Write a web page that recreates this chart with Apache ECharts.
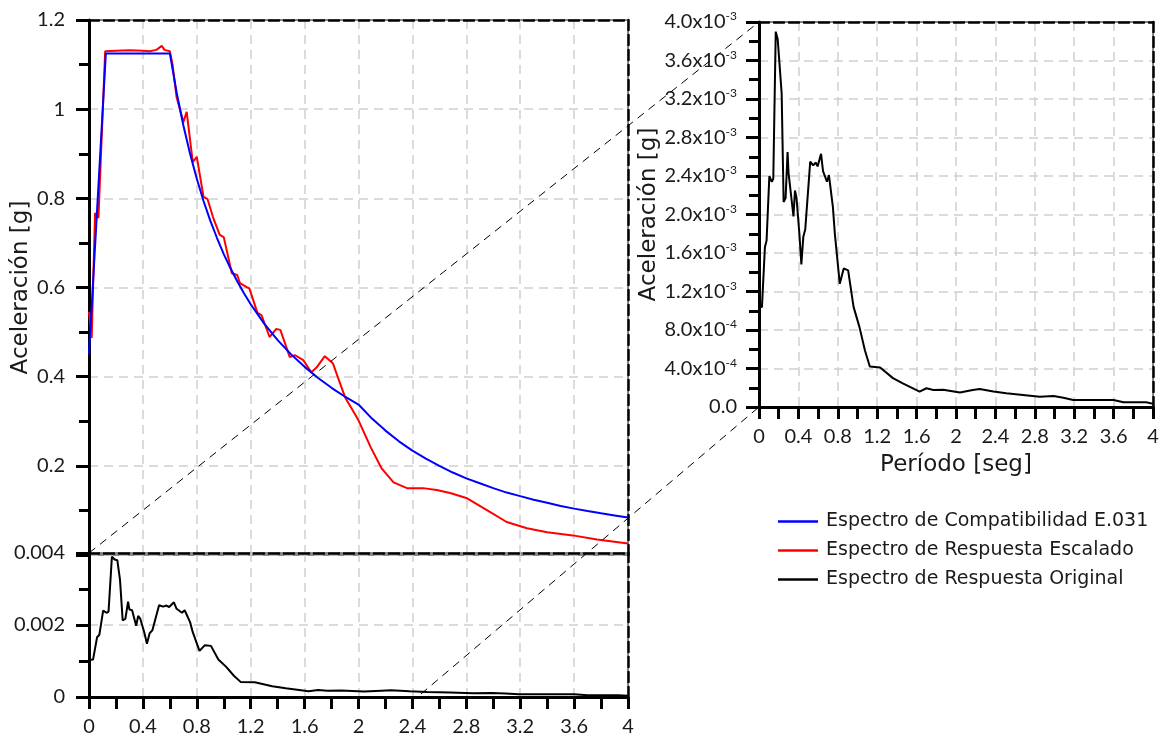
<!DOCTYPE html>
<html>
<head>
<meta charset="utf-8">
<script src="https://cdn.jsdelivr.net/npm/echarts@6/dist/echarts.min.js"></script>
<style>html,body{margin:0;padding:0;background:#fff}#c{width:1163px;height:742px}</style>
</head>
<body>
<div id="c"></div>
<script>
// Compatibility spectrum E.031 (period [s], acceleration [g])
var blueT = [0, 0.125, 0.6, 0.65, 0.7, 0.75, 0.8, 0.85, 0.9, 0.95, 1.0, 1.05, 1.1, 1.15, 1.2, 1.3, 1.4, 1.5, 1.6, 1.7, 1.8, 1.9, 2.0, 2.1, 2.2, 2.3, 2.4, 2.5, 2.6, 2.7, 2.8, 2.9, 3.0, 3.1, 3.2, 3.3, 3.4, 3.5, 3.6, 3.7, 3.8, 3.9, 4.0];
var blueA = [0.45, 1.125, 1.125, 1.038, 0.964, 0.9, 0.844, 0.794, 0.75, 0.711, 0.675, 0.643, 0.614, 0.587, 0.5625, 0.519, 0.482, 0.45, 0.422, 0.397, 0.375, 0.355, 0.3375, 0.306, 0.279, 0.255, 0.234, 0.216, 0.2, 0.185, 0.172, 0.161, 0.15, 0.14, 0.132, 0.124, 0.117, 0.110, 0.104, 0.0986, 0.0935, 0.0888, 0.084];

// Scaled response spectrum
var redT = [0, 0.02, 0.045, 0.07, 0.12, 0.2, 0.3, 0.4, 0.45, 0.5, 0.54, 0.56, 0.6, 0.62, 0.65, 0.7, 0.725, 0.77, 0.8, 0.85, 0.88, 0.92, 0.97, 1.0, 1.06, 1.1, 1.12, 1.17, 1.19, 1.25, 1.28, 1.34, 1.39, 1.42, 1.49, 1.53, 1.59, 1.65, 1.69, 1.75, 1.81, 1.9, 2.0, 2.09, 2.17, 2.26, 2.36, 2.48, 2.58, 2.68, 2.8, 2.95, 3.1, 3.25, 3.4, 3.59, 3.77, 4.0];
var redA = [0.545, 0.487, 0.767, 0.756, 1.13, 1.131, 1.132, 1.131, 1.13, 1.133, 1.142, 1.133, 1.13, 1.1, 1.027, 0.971, 0.994, 0.881, 0.893, 0.803, 0.798, 0.758, 0.718, 0.713, 0.632, 0.628, 0.61, 0.601, 0.598, 0.543, 0.538, 0.489, 0.507, 0.505, 0.444, 0.448, 0.437, 0.41, 0.421, 0.446, 0.43, 0.354, 0.302, 0.242, 0.195, 0.163, 0.15, 0.15, 0.146, 0.139, 0.128, 0.101, 0.074, 0.06, 0.051, 0.044, 0.035, 0.026];

// Original response spectrum
var blackT = [0, 0.03, 0.06, 0.077, 0.105, 0.13, 0.145, 0.17, 0.19, 0.21, 0.23, 0.25, 0.27, 0.29, 0.30, 0.32, 0.35, 0.365, 0.38, 0.41, 0.43, 0.45, 0.47, 0.52, 0.55, 0.575, 0.595, 0.63, 0.65, 0.69, 0.71, 0.75, 0.77, 0.82, 0.86, 0.905, 0.96, 1.02, 1.075, 1.125, 1.23, 1.36, 1.46, 1.63, 1.70, 1.77, 1.87, 2.04, 2.17, 2.24, 2.38, 2.51, 2.68, 2.85, 2.99, 3.09, 3.19, 3.60, 3.70, 3.93, 4.0];
var blackA = [0.00103, 0.00104, 0.00166, 0.00173, 0.0024, 0.00234, 0.00237, 0.0039, 0.00382, 0.0038, 0.00326, 0.00213, 0.00217, 0.00265, 0.00243, 0.00241, 0.00198, 0.00225, 0.00218, 0.0018, 0.00148, 0.00177, 0.00185, 0.00255, 0.00251, 0.00254, 0.0025, 0.00263, 0.00245, 0.00234, 0.00241, 0.00208, 0.0018, 0.00128, 0.00144, 0.00142, 0.00104, 0.00083, 0.00059, 0.00042, 0.00041, 0.0003, 0.000245, 0.00016, 0.000195, 0.000177, 0.00018, 0.00015, 0.000177, 0.000187, 0.00016, 0.000142, 0.000125, 0.000107, 0.000114, 0.000097, 0.000073, 0.000073, 0.000049, 0.000049, 0.000034];

var seriesNames = ['Espectro de Compatibilidad E.031', 'Espectro de Respuesta Escalado', 'Espectro de Respuesta Original'];
var xTickLabels = ['0', '0.4', '0.8', '1.2', '1.6', '2', '2.4', '2.8', '3.2', '3.6', '4'];
var yNameText = 'Aceleración [g]';
var xNameText = 'Período [seg]';

function zip(a, b) { return a.map(function (v, i) { return [v, b[i]]; }); }

var FONT = 'Lato';
var WIDE = 'DejaVu Sans';
var TXT = '#1a1a1a';
var chart = echarts.init(document.getElementById('c'));

function xBottom(grid, showLabels, name) {
  return {
    type: 'value', gridIndex: grid, position: 'bottom', min: 0, max: 4, interval: 0.4,
    axisLine: { show: showLabels, onZero: false, lineStyle: { color: '#000', width: 3 } },
    axisTick: { show: showLabels, length: 12, lineStyle: { color: '#000', width: 3 } },
    minorTick: { show: showLabels, splitNumber: 2, length: 12, lineStyle: { color: '#000', width: 3 } },
    axisLabel: { show: showLabels, margin: 20, fontFamily: FONT, fontSize: 20, color: TXT,
      formatter: function (v) { return xTickLabels[Math.round(v / 0.4)]; } },
    splitLine: { show: true, lineStyle: { color: '#cfcfcf', type: [9, 6], width: 1.5 } },
    name: name || '', nameLocation: 'middle', nameGap: 47,
    nameTextStyle: { fontFamily: WIDE, fontSize: 23, color: TXT }
  };
}
function xTop(grid) {
  return { type: 'value', gridIndex: grid, position: 'top', min: 0, max: 4,
    axisLine: { show: true, onZero: false, lineStyle: { color: '#000', width: 2.5, type: [10, 5] } },
    axisTick: { show: false }, axisLabel: { show: false }, splitLine: { show: false } };
}
function yRight(grid, max) {
  return { type: 'value', gridIndex: grid, position: 'right', min: 0, max: max,
    axisLine: { show: true, onZero: false, lineStyle: { color: '#000', width: 2.5, type: [10, 5] } },
    axisTick: { show: false }, axisLabel: { show: false }, splitLine: { show: false } };
}
function sci(v) {
  if (Math.abs(v) < 1e-12) return '{m|0.0}';
  var e = Math.floor(Math.log10(v) + 1e-9);
  var m = v / Math.pow(10, e);
  return '{m|' + m.toFixed(1) + 'x10}{s|' + e + '}';
}

var option = {
  animation: false,
  backgroundColor: '#fff',
  grid: [
    { left: 89, top: 20, width: 539, height: 535, show: true, borderColor: '#8a8a8a', borderWidth: 2, backgroundColor: 'transparent' },
    { left: 89, top: 553, width: 539, height: 144, show: true, borderColor: '#8a8a8a', borderWidth: 2, backgroundColor: 'transparent' },
    { left: 759, top: 22, width: 394, height: 385, show: true, borderColor: '#8a8a8a', borderWidth: 2, backgroundColor: 'transparent' }
  ],
  xAxis: [
    xBottom(0, false), xTop(0),
    xBottom(1, true), xTop(1),
    xBottom(2, true, xNameText), xTop(2)
  ],
  yAxis: [
    { type: 'value', gridIndex: 0, min: 0, max: 1.2, interval: 0.2,
      axisLine: { show: true, onZero: false, lineStyle: { color: '#000', width: 3 } },
      axisTick: { show: true, length: 13, lineStyle: { color: '#000', width: 3 } },
      minorTick: { show: true, splitNumber: 2, length: 10, lineStyle: { color: '#000', width: 3 } },
      axisLabel: { margin: 24, fontFamily: FONT, fontSize: 20, color: TXT,
        formatter: function (v) { return v === 0 ? '' : String(+v.toFixed(1)); } },
      splitLine: { show: true, lineStyle: { color: '#cfcfcf', type: [9, 6], width: 1.5 } },
      name: yNameText, nameLocation: 'middle', nameGap: 56, nameRotate: 90,
      nameTextStyle: { fontFamily: WIDE, fontSize: 23, color: TXT } },
    yRight(0, 1.2),
    { type: 'value', gridIndex: 1, min: 0, max: 0.004, interval: 0.002,
      axisLine: { show: true, onZero: false, lineStyle: { color: '#000', width: 3 } },
      axisTick: { show: true, length: 13, lineStyle: { color: '#000', width: 3 } },
      minorTick: { show: true, splitNumber: 2, length: 10, lineStyle: { color: '#000', width: 3 } },
      axisLabel: { margin: 24, fontFamily: FONT, fontSize: 20, color: TXT,
        formatter: function (v) { return String(+v.toFixed(3)); } },
      splitLine: { show: true, lineStyle: { color: '#cfcfcf', type: [9, 6], width: 1.5 } } },
    yRight(1, 0.004),
    { type: 'value', gridIndex: 2, min: 0, max: 0.004, interval: 0.0004,
      axisLine: { show: true, onZero: false, lineStyle: { color: '#000', width: 3 } },
      axisTick: { show: true, length: 13, lineStyle: { color: '#000', width: 3 } },
      minorTick: { show: true, splitNumber: 2, length: 10, lineStyle: { color: '#000', width: 3 } },
      axisLabel: { margin: 22, fontFamily: FONT, fontSize: 20, color: TXT, formatter: sci,
        rich: { m: { fontFamily: FONT, fontSize: 20, color: TXT },
                s: { fontFamily: FONT, fontSize: 12, color: TXT, verticalAlign: 'bottom', padding: [0, 0, 11, 0] } } },
      splitLine: { show: true, lineStyle: { color: '#cfcfcf', type: [9, 6], width: 1.5 } },
      name: yNameText, nameLocation: 'middle', nameGap: 95, nameRotate: 90,
      nameTextStyle: { fontFamily: WIDE, fontSize: 23, color: TXT } },
    yRight(2, 0.004)
  ],
  legend: {
    orient: 'vertical', left: 773, top: 506, itemGap: 8, itemWidth: 40, itemHeight: 2.5, icon: 'rect',
    textStyle: { fontFamily: WIDE, fontSize: 19, color: TXT, lineHeight: 21, padding: [0, 0, 0, 3] },
    data: seriesNames
  },
  series: [
    { name: seriesNames[0], type: 'line', xAxisIndex: 0, yAxisIndex: 0, data: zip(blueT, blueA),
      showSymbol: false, symbol: 'none', lineStyle: { color: '#0000ff', width: 2 }, itemStyle: { color: '#0000ff' }, z: 3 },
    { name: seriesNames[1], type: 'line', xAxisIndex: 0, yAxisIndex: 0, data: zip(redT, redA),
      showSymbol: false, symbol: 'none', lineStyle: { color: '#ff0000', width: 2 }, itemStyle: { color: '#ff0000' }, z: 2 },
    { name: seriesNames[2], type: 'line', xAxisIndex: 2, yAxisIndex: 2, data: zip(blackT, blackA),
      showSymbol: false, symbol: 'none', lineStyle: { color: '#000', width: 2 }, itemStyle: { color: '#000' } },
    { name: seriesNames[2], type: 'line', xAxisIndex: 4, yAxisIndex: 4, data: zip(blackT, blackA),
      showSymbol: false, symbol: 'none', lineStyle: { color: '#000', width: 2 }, itemStyle: { color: '#000' } }
  ],
  graphic: [
    { type: 'line', silent: true, z: 100, shape: { x1: 89, y1: 553, x2: 759, y2: 22 },
      style: { stroke: '#000', lineWidth: 1, lineDash: [8, 6] } },
    { type: 'line', silent: true, z: 100, shape: { x1: 421, y1: 694, x2: 759, y2: 407 },
      style: { stroke: '#000', lineWidth: 1, lineDash: [8, 6] } }
  ]
};
chart.setOption(option);
</script>
</body>
</html>
